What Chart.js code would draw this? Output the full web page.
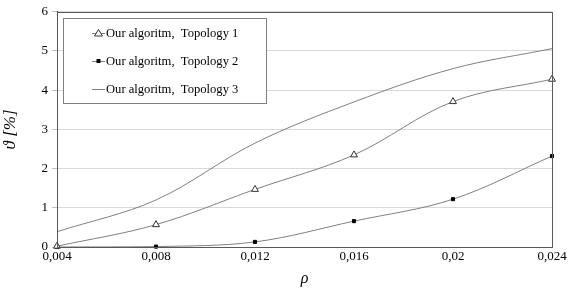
<!DOCTYPE html>
<html><head><meta charset="utf-8">
<script src="https://cdn.jsdelivr.net/npm/chart.js@4/dist/chart.umd.min.js"></script>
<style>html,body{margin:0;padding:0;background:#fff}#wrap{width:581px;height:288px}</style>
</head><body><div id="wrap"><canvas id="c" width="581" height="288"></canvas></div>
<script>
const rhoValues = [0.004, 0.008, 0.012, 0.016, 0.02, 0.024];
const rhoLabels = ["0,004", "0,008", "0,012", "0,016", "0,02", "0,024"];
const yTicks = [0, 1, 2, 3, 4, 5, 6];
const seriesNames = ["Our algoritm,  Topology 1", "Our algoritm,  Topology 2", "Our algoritm,  Topology 3"];
const topology1 = [0.02, 0.57, 1.47, 2.35, 3.71, 4.28];
const topology2 = [0.0, 0.01, 0.13, 0.66, 1.22, 2.32];
const topology3 = [0.39, 1.2, 2.65, 3.7, 4.55, 5.06];

const serif = "'Liberation Serif', 'DejaVu Serif', serif";
Chart.defaults.font.family = serif;
const toPts = arr => arr.map((v, i) => ({x: rhoValues[i], y: v}));

const frame = {
  id: 'frame',
  afterDraw(chart) {
    const {ctx, chartArea: a} = chart;
    ctx.save();
    ctx.strokeStyle = '#595959'; ctx.lineWidth = 1;
    ctx.strokeRect(Math.round(a.left) + 0.5, Math.round(a.top) + 0.5, Math.round(a.right - a.left), Math.round(a.bottom - a.top));
    const bx = 63.5, by = 18.5, bw = 203, bh = 85;
    ctx.fillStyle = '#fff'; ctx.fillRect(bx, by, bw, bh);
    ctx.strokeStyle = '#7f7f7f'; ctx.strokeRect(bx, by, bw, bh);
    ctx.font = "12.6px " + serif; ctx.fillStyle = '#000'; ctx.textBaseline = 'middle';
    const ys = [33, 61, 89];
    chart.data.datasets.forEach((ds, i) => {
      const y = ys[i];
      ctx.strokeStyle = '#808080'; ctx.lineWidth = 1;
      ctx.beginPath(); ctx.moveTo(92, y + 0.5); ctx.lineTo(105, y + 0.5); ctx.stroke();
      if (i === 0) {
        ctx.fillStyle = '#fff'; ctx.strokeStyle = '#333';
        ctx.beginPath(); ctx.moveTo(98.5, y - 3.5); ctx.lineTo(102.5, y + 3); ctx.lineTo(94.5, y + 3); ctx.closePath(); ctx.fill(); ctx.stroke();
      } else if (i === 1) {
        ctx.fillStyle = '#000'; ctx.fillRect(96.5, y - 2, 4, 4);
      }
      ctx.fillStyle = '#000';
      ctx.fillText(ds.label, 106, y + 1);
    });
    ctx.restore();
  }
};

new Chart(document.getElementById('c'), {
  type: 'line',
  data: {
    datasets: [
      {label: seriesNames[0], data: toPts(topology1), borderColor: '#808080', borderWidth: 1, tension: 0.35,
       pointStyle: 'triangle', pointRadius: 4, pointBackgroundColor: '#fff', pointBorderColor: '#333', pointBorderWidth: 1},
      {label: seriesNames[1], data: toPts(topology2), borderColor: '#808080', borderWidth: 1, tension: 0.35,
       pointStyle: 'rect', pointRadius: 2.2, pointBackgroundColor: '#000', pointBorderColor: '#000', pointBorderWidth: 1},
      {label: seriesNames[2], data: toPts(topology3), borderColor: '#808080', borderWidth: 1, tension: 0.35, pointRadius: 0}
    ]
  },
  options: {
    responsive: false, animation: false, clip: false,
    layout: {padding: {left: 0, top: 11, right: 29, bottom: 0}},
    plugins: {legend: {display: false}, tooltip: {enabled: false}},
    scales: {
      x: {
        type: 'linear', min: 0.004, max: 0.024,
        afterBuildTicks: s => { s.ticks = rhoValues.map(v => ({value: v})); },
        afterFit: s => { s.height = 41; },
        ticks: {callback: (v, i) => rhoLabels[i], color: '#000', font: {family: serif, size: 13}, padding: 2, maxRotation: 0},
        grid: {display: false, drawTicks: false},
        border: {color: '#404040', width: 1},
        title: {display: true, text: 'ρ', color: '#000', font: {family: serif, size: 16, style: 'italic'}, padding: {top: 0, bottom: 0}}
      },
      y: {
        min: 0, max: 6,
        afterBuildTicks: s => { s.ticks = yTicks.map(v => ({value: v})); },
        afterFit: s => { s.width = 57; },
        ticks: {color: '#000', font: {family: serif, size: 13}, padding: 4},
        grid: {color: '#d9d9d9', lineWidth: 1, tickLength: 5, tickColor: '#bfbfbf'},
        border: {color: '#404040', width: 1},
        title: {display: true, text: 'ϑ [%]', color: '#000', font: {family: serif, size: 17, style: 'italic'}, padding: {top: 0, bottom: 4}}
      }
    }
  },
  plugins: [frame]
});
</script></body></html>
